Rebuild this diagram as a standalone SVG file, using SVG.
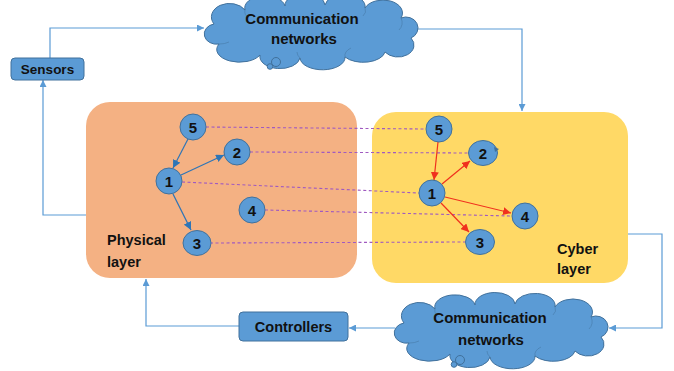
<svg xmlns="http://www.w3.org/2000/svg" width="674" height="371" viewBox="0 0 674 371">
  <style>
    .txt { font-family: "Liberation Sans", Arial, sans-serif; font-weight: bold; fill: #111; }
    .flow { fill: none; stroke: #5B9BD5; stroke-width: 1.2; }
    .box { fill: #5B9BD5; stroke: #41719C; stroke-width: 1; }
    .cloud { fill: #5B9BD5; stroke: #41719C; stroke-width: 1; }
    .crease { fill: none; stroke: #41719C; stroke-width: 0.8; opacity: 0.6; }
    .node circle, .node ellipse { fill: #5B9BD5; stroke: #41719C; stroke-width: 1; }
    .num { font-family: "Liberation Sans", Arial, sans-serif; font-weight: bold; font-size: 15px; fill: #111; text-anchor: middle; }
    .link { fill: none; stroke: #A05AC0; stroke-width: 1.1; stroke-dasharray: 3 2.5; }
    .phys { fill: none; stroke: #2E75B6; stroke-width: 1.2; }
    .cyb { fill: none; stroke: #F0301E; stroke-width: 1.2; }
  </style>
  <defs>
    <marker id="arrFlow" viewBox="0 0 10 10" refX="10" refY="5" markerWidth="7" markerHeight="7" markerUnits="userSpaceOnUse" orient="auto">
      <path d="M0,0 L10,5 L0,10 Z" fill="#5B9BD5"/>
    </marker>
    <marker id="arrPhys" viewBox="0 0 10 10" refX="10" refY="5" markerWidth="8" markerHeight="8" markerUnits="userSpaceOnUse" orient="auto">
      <path d="M0,0 L10,5 L0,10 Z" fill="#2E75B6"/>
    </marker>
    <marker id="arrCyb" viewBox="0 0 10 10" refX="10" refY="5" markerWidth="8" markerHeight="8" markerUnits="userSpaceOnUse" orient="auto">
      <path d="M0,0 L10,5 L0,10 Z" fill="#F0301E"/>
    </marker>
    <!-- cloud outline in a 213 x 56 box -->
    <path id="cloudShape" d="M14,42 A12 10 0 0 1 9,22 A16 12 0 0 1 40,8 A20 12 0 0 1 80,4 A20 12 0 0 1 120,3 A20 12 0 0 1 160,6 A18 12 0 0 1 196,16 A12 11 0 0 1 206,36 A16 12 0 0 1 180,50 A22 12 0 0 1 140,55 A22 12 0 0 1 95,56 A20 12 0 0 1 55,53 A18 10 0 0 1 14,42 Z"/>
  </defs>

  <!-- layers -->
  <g id="physical-layer">
    <rect x="86" y="102" width="271" height="176" rx="24" fill="#F4B183"/>
    <text class="txt" x="107" y="245" font-size="14.5">Physical</text>
    <text class="txt" x="107" y="267" font-size="14.5">layer</text>
  </g>
  <g id="cyber-layer">
    <rect x="372" y="112" width="256" height="171" rx="24" fill="#FFD966"/>
    <text class="txt" x="557" y="254" font-size="14.5">Cyber</text>
    <text class="txt" x="557" y="274" font-size="14.5">layer</text>
  </g>

  <!-- feedback loop connectors -->
  <g id="connectors">
    <path class="flow" d="M50,58 V28 H204" marker-end="url(#arrFlow)"/>
    <path class="flow" d="M418,29 H522 V111" marker-end="url(#arrFlow)"/>
    <path class="flow" d="M628,234 H662 V328 H609" marker-end="url(#arrFlow)"/>
    <path class="flow" d="M395,328 H349" marker-end="url(#arrFlow)"/>
    <path class="flow" d="M239,326 H146 V279" marker-end="url(#arrFlow)"/>
    <path class="flow" d="M86,215 H43 V80" marker-end="url(#arrFlow)"/>

    <!-- physical-to-cyber correspondences -->
    <line class="link" x1="206" y1="127" x2="426" y2="129"/>
    <line class="link" x1="250" y1="152" x2="468" y2="153"/>
    <line class="link" x1="182" y1="182" x2="419" y2="193"/>
    <line class="link" x1="265" y1="210" x2="510" y2="216"/>
    <line class="link" x1="210" y1="243" x2="465" y2="242"/>

    <!-- physical layer edges -->
    <line class="phys" x1="188" y1="139" x2="173" y2="168" marker-end="url(#arrPhys)"/>
    <line class="phys" x1="181" y1="175" x2="224" y2="155" marker-end="url(#arrPhys)"/>
    <line class="phys" x1="173" y1="194" x2="191" y2="230" marker-end="url(#arrPhys)"/>

    <!-- cyber layer edges -->
    <line class="cyb" x1="438" y1="142" x2="434" y2="180" marker-end="url(#arrCyb)"/>
    <line class="cyb" x1="442" y1="184" x2="470" y2="161" marker-end="url(#arrCyb)"/>
    <line class="cyb" x1="445" y1="197" x2="511" y2="213" marker-end="url(#arrCyb)"/>
    <line class="cyb" x1="441" y1="203" x2="469" y2="232" marker-end="url(#arrCyb)"/>
  </g>

  <!-- physical nodes -->
  <g id="p5" class="node"><circle cx="193" cy="127" r="13"/><text class="num" x="193" y="132.5">5</text></g>
  <g id="p2" class="node"><circle cx="237" cy="152" r="13"/><text class="num" x="237" y="157.5">2</text></g>
  <g id="p1" class="node"><circle cx="169" cy="181" r="13"/><text class="num" x="169" y="186.5">1</text></g>
  <g id="p4" class="node"><circle cx="252" cy="210" r="13"/><text class="num" x="252" y="215.5">4</text></g>
  <g id="p3" class="node"><ellipse cx="197" cy="243" rx="14" ry="12.5"/><text class="num" x="197" y="248.5">3</text></g>

  <!-- cyber nodes -->
  <g id="c5" class="node"><circle cx="439" cy="129" r="13"/><text class="num" x="439" y="134.5">5</text></g>
  <g id="c2" class="node">
    <ellipse cx="483" cy="153" rx="14.5" ry="12.5"/>
    <path d="M494,147 L499,149 L495,152 Z" fill="#41719C"/>
    <text class="num" x="483" y="158.5">2</text>
  </g>
  <g id="c1" class="node"><circle cx="432" cy="193" r="13"/><text class="num" x="432" y="198.5">1</text></g>
  <g id="c4" class="node"><circle cx="525" cy="216" r="13"/><text class="num" x="525" y="221.5">4</text></g>
  <g id="c3" class="node"><ellipse cx="480" cy="242" rx="14.5" ry="12.5"/><text class="num" x="480" y="247.5">3</text></g>

  <!-- sensing and actuation -->
  <g id="sensors">
    <rect class="box" x="11" y="58" width="73" height="22" rx="4"/>
    <text class="txt" x="47.5" y="74" font-size="13.5" text-anchor="middle">Sensors</text>
  </g>
  <g id="controllers">
    <rect class="box" x="239" y="312" width="109" height="29" rx="4"/>
    <text class="txt" x="293.5" y="332" font-size="14.5" text-anchor="middle">Controllers</text>
  </g>

  <g id="network-top">
    <use href="#cloudShape" class="cloud" transform="translate(205,2)"/>
    <g transform="translate(205,2)">
      <path class="crease" d="M14,42 A14 8 0 0 0 24,40"/>
      <path class="crease" d="M40,8 A10 8 0 0 0 44,16"/>
      <path class="crease" d="M160,6 A10 8 0 0 1 158,14"/>
      <path class="crease" d="M196,16 A10 10 0 0 1 194,28"/>
      <path class="crease" d="M140,55 A16 10 0 0 1 146,46"/>
      <path class="crease" d="M95,56 A14 10 0 0 1 92,50"/>
    </g>
    <circle class="cloud" cx="276" cy="62" r="4.5"/>
    <circle class="cloud" cx="270" cy="66.5" r="2.8"/>
    <text class="txt" x="302" y="24" font-size="15" text-anchor="middle">Communication</text>
    <text class="txt" x="304" y="44" font-size="15" text-anchor="middle">networks</text>
  </g>

  <g id="network-bottom">
    <use href="#cloudShape" class="cloud" transform="translate(395,301)"/>
    <g transform="translate(395,301)">
      <path class="crease" d="M14,42 A14 8 0 0 0 24,40"/>
      <path class="crease" d="M40,8 A10 8 0 0 0 44,16"/>
      <path class="crease" d="M160,6 A10 8 0 0 1 158,14"/>
      <path class="crease" d="M196,16 A10 10 0 0 1 194,28"/>
      <path class="crease" d="M140,55 A16 10 0 0 1 146,46"/>
      <path class="crease" d="M95,56 A14 10 0 0 1 92,50"/>
    </g>
    <circle class="cloud" cx="460" cy="360" r="4.5"/>
    <circle class="cloud" cx="454" cy="364.5" r="2.8"/>
    <text class="txt" x="490" y="323" font-size="15" text-anchor="middle">Communication</text>
    <text class="txt" x="491" y="345" font-size="15" text-anchor="middle">networks</text>
  </g>
</svg>
